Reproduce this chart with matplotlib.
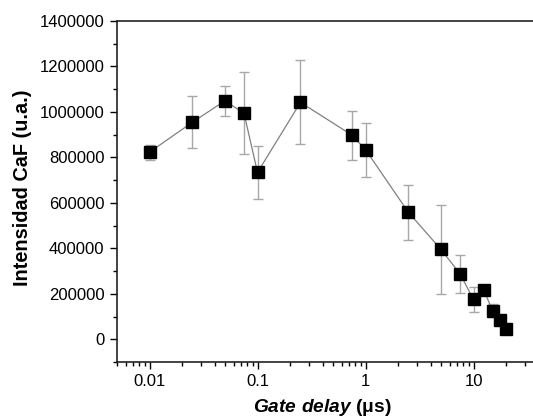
import matplotlib
matplotlib.use("Agg")
import matplotlib.pyplot as plt
from matplotlib.ticker import LogLocator, MultipleLocator, FixedLocator, FixedFormatter, NullFormatter

plt.rcParams['font.family'] = ['Liberation Sans', 'DejaVu Sans']
plt.rcParams['mathtext.fontset'] = 'custom'
plt.rcParams['mathtext.it'] = 'Liberation Sans:italic:bold'
plt.rcParams['mathtext.rm'] = 'Liberation Sans:bold'

gate_delay = [0.01, 0.025, 0.05, 0.075, 0.1, 0.25, 0.75, 1.0, 2.5, 5.0, 7.5, 10.0, 12.5, 15.0, 17.5, 20.0]
intensity = [823000, 955000, 1049000, 994000, 734000, 1042000, 898000, 834000, 558000, 395000, 288000, 175000, 216000, 125000, 84000, 45000]
error = [33000, 115000, 65000, 180000, 118000, 185000, 108000, 119000, 122000, 197000, 84000, 56000, 0, 28000, 0, 0]

xtick_vals = [0.01, 0.1, 1, 10]
xtick_labels = ["0.01", "0.1", "1", "10"]

fig = plt.figure(figsize=(5.33, 4.18), dpi=100)
ax = fig.add_axes([117/533, (418-362)/418, 432/533, (362-21)/418])

ax.errorbar(gate_delay, intensity, yerr=error, fmt='none', ecolor='#a8a8a8',
            elinewidth=1.0, capsize=3.5, capthick=1.0, zorder=1)
ax.plot(gate_delay, intensity, color='#808080', lw=0.9, zorder=2)
ax.plot(gate_delay, intensity, 's', color='black', ms=8.6, zorder=3)

ax.set_xscale('log')
ax.set_xlim(0.005, 50)
ax.set_ylim(-100000, 1400000)

ax.xaxis.set_major_locator(FixedLocator(xtick_vals))
ax.xaxis.set_major_formatter(FixedFormatter(xtick_labels))
ax.xaxis.set_minor_locator(LogLocator(base=10, subs=range(2, 10), numticks=20))
ax.xaxis.set_minor_formatter(NullFormatter())
ax.yaxis.set_major_locator(MultipleLocator(200000))
ax.yaxis.set_minor_locator(MultipleLocator(100000))
ax.yaxis.set_major_formatter(matplotlib.ticker.FuncFormatter(lambda v, p: f"{int(round(v))}"))

ax.tick_params(which='major', direction='out', length=5, width=1.0, labelsize=12, colors='black', pad=4)
ax.tick_params(which='minor', direction='out', length=3, width=1.0)
ax.tick_params(top=False, right=False, which='both')

for s in ['left', 'bottom', 'top']:
    ax.spines[s].set_linewidth(1.2)
    ax.spines[s].set_color('#222222')
ax.spines['right'].set_visible(False)

ax.set_ylabel('Intensidad CaF (u.a.)', fontsize=14.3, fontweight='bold')
ax.yaxis.set_label_coords((23 - 117) / 432, (362 - 188) / 341)
ax.set_xlabel(r'$\mathit{Gate\ delay}$ (μs)', fontsize=13.8, fontweight='bold')
ax.xaxis.set_label_coords((322 - 117) / 432, (362 - 408) / 341)
ax.xaxis.label.set_verticalalignment('center')
ax.yaxis.label.set_verticalalignment('center')

fig.savefig('out.png', dpi=100)
